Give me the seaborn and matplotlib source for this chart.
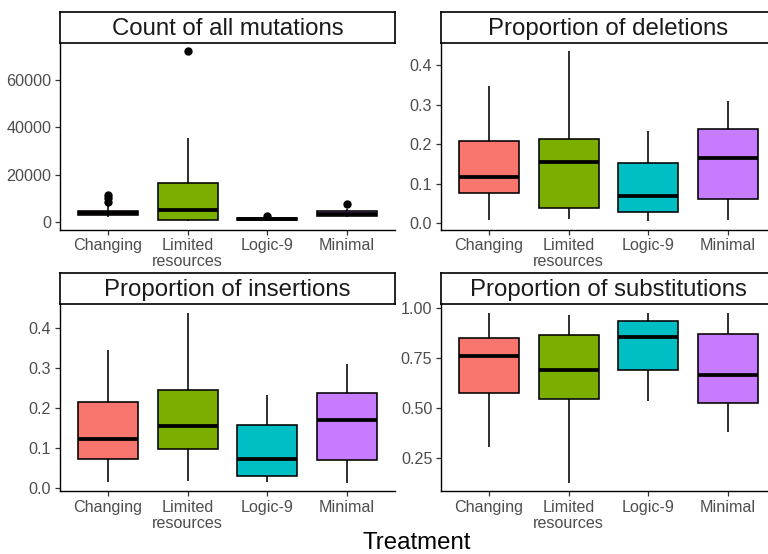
import numpy as np
import pandas as pd
import matplotlib
matplotlib.use("Agg")
import matplotlib.pyplot as plt
import seaborn as sns

sns.set_style("white")
plt.rcParams["font.family"] = ["Liberation Sans", "DejaVu Sans"]

# ---------------- data ----------------
treatments = ["Changing", "Limited\nresources", "Logic-9", "Minimal"]
colors = ["#F8766D", "#7CAE00", "#00BFC4", "#C77CFF"]
panel_titles = ["Count of all mutations", "Proportion of deletions",
                "Proportion of insertions", "Proportion of substitutions"]

# five-number summaries per treatment: lower whisker, Q1, median, Q3, upper whisker
count_stats = [[1900, 2800, 3800, 4800, 6600],
               [600, 1000, 5200, 16300, 35400],
               [400, 700, 1100, 1700, 1900],
               [2100, 2700, 3400, 4500, 5500]]
count_outliers = [[8600, 10000, 11300], [72000], [2400], [7600]]

deletion_stats = [[0.009, 0.076, 0.118, 0.207, 0.347],
                  [0.011, 0.038, 0.154, 0.212, 0.434],
                  [0.006, 0.029, 0.068, 0.153, 0.232],
                  [0.009, 0.062, 0.166, 0.239, 0.310]]
deletion_outliers = [[], [], [], []]

insertion_stats = [[0.014, 0.072, 0.122, 0.216, 0.346],
                   [0.017, 0.096, 0.155, 0.246, 0.440],
                   [0.014, 0.030, 0.072, 0.157, 0.232],
                   [0.013, 0.069, 0.169, 0.238, 0.311]]
insertion_outliers = [[], [], [], []]

substitution_stats = [[0.308, 0.576, 0.762, 0.849, 0.973],
                      [0.129, 0.546, 0.692, 0.863, 0.966],
                      [0.538, 0.689, 0.856, 0.936, 0.977],
                      [0.382, 0.526, 0.667, 0.868, 0.973]]
substitution_outliers = [[], [], [], []]

count_ticks = [0, 20000, 40000, 60000]
count_ticklabels = ["0", "20000", "40000", "60000"]
prop_ticks = [0.0, 0.1, 0.2, 0.3, 0.4]
prop_ticklabels = ["0.0", "0.1", "0.2", "0.3", "0.4"]
subst_ticks = [0.25, 0.50, 0.75, 1.00]
subst_ticklabels = ["0.25", "0.50", "0.75", "1.00"]

panels = [
    (count_stats, count_outliers, count_ticks, count_ticklabels),
    (deletion_stats, deletion_outliers, prop_ticks, prop_ticklabels),
    (insertion_stats, insertion_outliers, prop_ticks, prop_ticklabels),
    (substitution_stats, substitution_outliers, subst_ticks, subst_ticklabels),
]

# ---------------- layout ----------------
W, H = 768, 554
fig = plt.figure(figsize=(W / 100, H / 100), dpi=100)

col_x = [60, 441]
panel_w = 335
row_strip_top = [12, 273]
strip_h = 31
row_bottom = [229.5, 491]

for i, (stats, outl, ticks, ticklabels) in enumerate(panels):
    r, c = divmod(i, 2)
    x0 = col_x[c]
    top = row_strip_top[r] + strip_h
    bot = row_bottom[r]
    ax = fig.add_axes([x0 / W, 1 - bot / H, panel_w / W, (bot - top) / H])
    sax = fig.add_axes([x0 / W, 1 - top / H, panel_w / W, strip_h / H])

    df = pd.DataFrame({
        "Treatment": [t for t, s in zip(treatments, stats) for _ in s],
        "value": [v for s in stats for v in s],
    })
    sns.boxplot(data=df, x="Treatment", y="value", hue="Treatment",
                order=treatments, hue_order=treatments, palette=colors,
                whis=(0, 100), width=0.75, linewidth=1.15, linecolor="black",
                showfliers=False, saturation=1, legend=False, ax=ax,
                medianprops=dict(linewidth=2.7, color="black"),
                boxprops=dict(edgecolor="black"),
                whiskerprops=dict(color="black"), capprops=dict(linewidth=0))

    odf = pd.DataFrame({
        "Treatment": [t for t, o in zip(treatments, outl) for _ in o],
        "value": [v for o in outl for v in o],
    })
    if len(odf):
        sns.stripplot(data=odf, x="Treatment", y="value", order=treatments,
                      jitter=False, color="black", size=6, linewidth=0,
                      ax=ax, zorder=5)

    allv = [v for s in stats for v in s] + [v for o in outl for v in o]
    lo, hi = min(allv), max(allv)
    pad = 0.05 * (hi - lo)
    ax.set_ylim(lo - pad, hi + pad)
    ax.set_xlim(-0.6, len(treatments) - 0.4)
    ax.set_yticks(ticks)
    ax.set_yticklabels(ticklabels)
    ax.set_xticks(range(len(treatments)))
    ax.set_xticklabels(treatments, linespacing=1.1)
    ax.set_xlabel("")
    ax.set_ylabel("")
    for side in ["top", "right"]:
        ax.spines[side].set_visible(False)
    for side in ["left", "bottom"]:
        ax.spines[side].set_visible(True)
        ax.spines[side].set_color("black")
        ax.spines[side].set_linewidth(1.0)
    ax.tick_params(axis="both", which="major", length=3.8, width=0.9,
                   color="#333333", labelcolor="#4D4D4D", labelsize=11.6,
                   pad=2.5, left=True, bottom=True)
    ax.grid(False)
    ax.set_facecolor("white")

    sax.set_xticks([])
    sax.set_yticks([])
    for sp in sax.spines.values():
        sp.set_visible(True)
        sp.set_color("black")
        sp.set_linewidth(1.2)
    sax.set_facecolor("white")
    sax.text(0.5, 0.45, panel_titles[i], ha="center", va="center",
             fontsize=17.3, color="#1A1A1A", transform=sax.transAxes)

fig.text(417 / W, 1 - 543 / H, "Treatment", ha="center", va="center",
         fontsize=17.3, color="black")

fig.savefig("out.png", dpi=100)
